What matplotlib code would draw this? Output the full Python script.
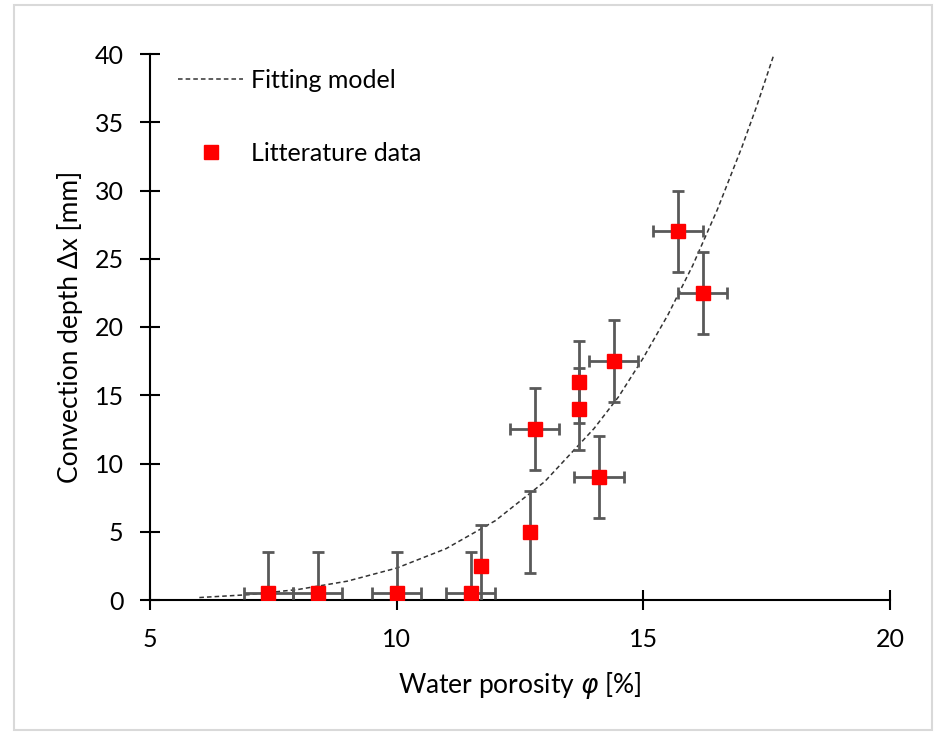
import matplotlib
matplotlib.use("Agg")
import matplotlib.pyplot as plt
from matplotlib.patches import Rectangle

# literature data (porosity %, convection depth mm)
porosity = [7.4, 8.4, 10.0, 11.5, 11.7, 12.7, 12.8, 13.7, 13.7, 14.1, 14.4, 15.7, 16.2]
depth = [0.5, 0.5, 0.5, 0.5, 2.5, 5.0, 12.5, 16.0, 14.0, 9.0, 17.5, 27.0, 22.5]
porosity_err = [0.5, 0.5, 0.5, 0.5, 0.0, 0.0, 0.5, 0.0, 0.0, 0.5, 0.5, 0.5, 0.5]
depth_err = [3.0, 3.0, 3.0, 3.0, 3.0, 3.0, 3.0, 3.0, 3.0, 3.0, 3.0, 3.0, 3.0]

# fitting model
fit_x = [6.0, 7.0, 8.0, 9.0, 10.0, 11.0, 12.0, 13.0, 14.0, 14.5, 15.0, 15.5,
         16.0, 16.5, 17.0, 17.3, 17.65]
fit_y = [0.18, 0.39, 0.77, 1.38, 2.34, 3.76, 5.81, 8.67, 12.56, 14.9, 17.74,
         20.9, 24.5, 28.6, 33.2, 36.2, 40.0]

plt.rcParams['font.family'] = ['Lato', 'DejaVu Sans']
plt.rcParams['mathtext.fontset'] = 'dejavusans'

fig = plt.figure(figsize=(9.35, 7.32), dpi=100)
ax = fig.add_axes([150 / 935, 1 - 600 / 732, 740 / 935, 546 / 732])

ax.plot(fit_x, fit_y, color='#333333', lw=1.1, linestyle=(0, (3, 2)),
        label='Fitting model', zorder=2)
ax.errorbar(porosity, depth, xerr=porosity_err, yerr=depth_err, fmt='none',
            ecolor='#595959', elinewidth=2, capsize=4.5, capthick=2, zorder=3)
ax.plot(porosity, depth, 's', color='#ff0000', markersize=9.5, linestyle='none',
        label='Litterature data', zorder=4)

ax.set_xlim(5, 20)
ax.set_ylim(0, 40)
ax.set_xticks([5, 10, 15, 20])
ax.set_yticks(range(0, 41, 5))
for side in ['top', 'right']:
    ax.spines[side].set_visible(False)
for side in ['left', 'bottom']:
    ax.spines[side].set_linewidth(1.5)
ax.tick_params(axis='both', direction='inout', length=14, width=1.5,
               labelsize=18, color='black')
ax.tick_params(axis='y', pad=12)
ax.tick_params(axis='x', pad=13)

ax.set_xlabel(r'Water porosity $\varphi$ [%]', fontsize=19, labelpad=14)
ax.set_ylabel('Convection depth Δx [mm]', fontsize=19, labelpad=8)

ax.legend(loc='upper left', bbox_to_anchor=(0.018, 1.0), frameon=False,
          fontsize=18, labelspacing=2.0, handlelength=2.6, handletextpad=0.3,
          borderaxespad=0.2)

fig.patches.append(Rectangle((14 / 935, 1 - 730 / 732), 918 / 935, 725 / 732,
                             transform=fig.transFigure, fill=False,
                             edgecolor='#d9d9d9', linewidth=1.5))

fig.savefig('out.png', dpi=100)
